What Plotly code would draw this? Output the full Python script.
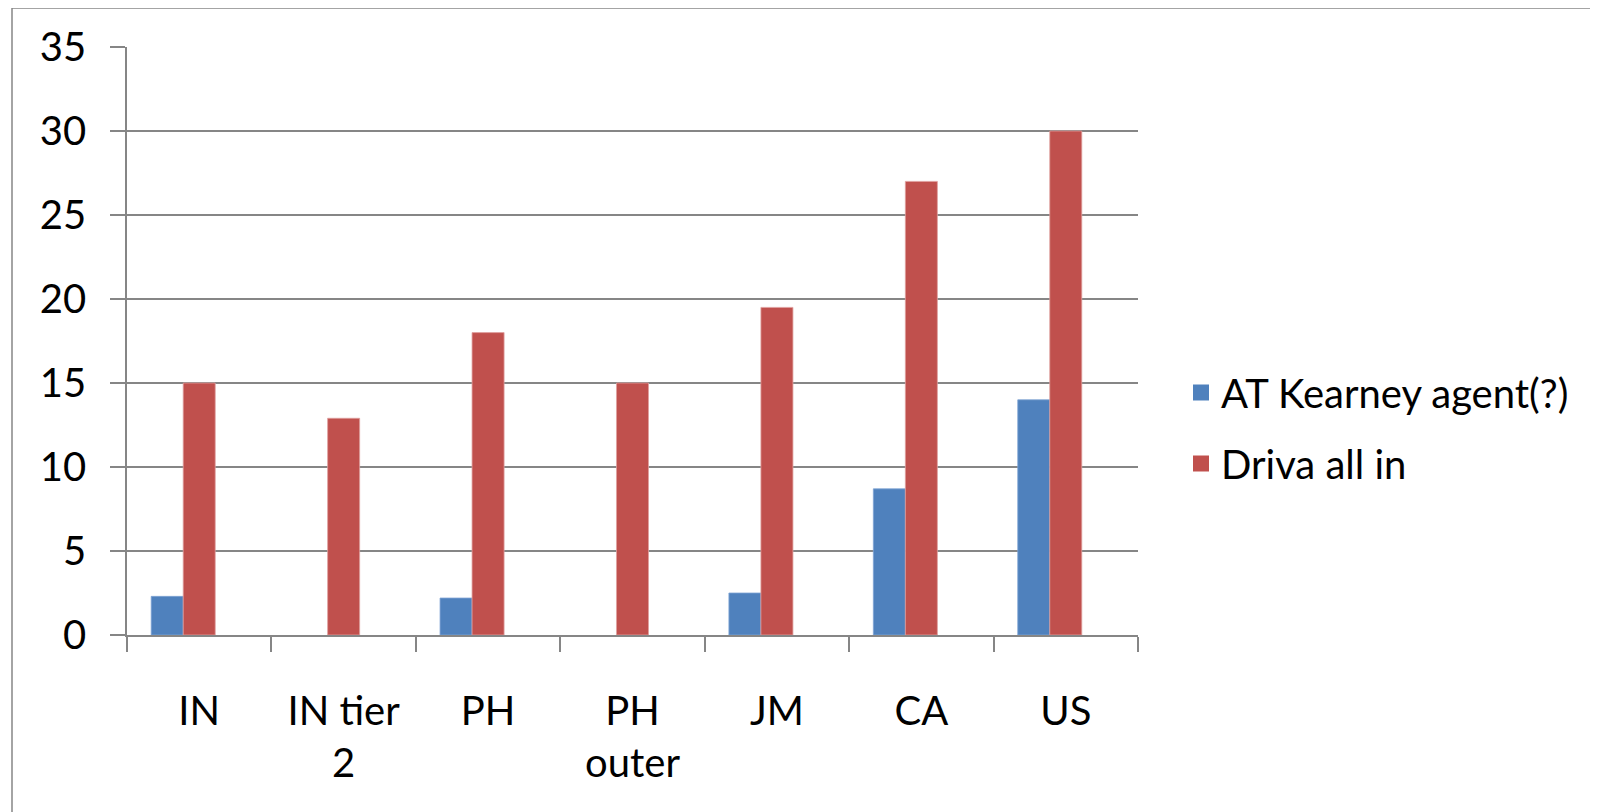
import plotly.graph_objects as go

categories = ["IN", "IN tier<br>2", "PH", "PH<br>outer", "JM", "CA", "US"]
at_kearney = [2.3, None, 2.2, None, 2.5, 8.7, 14]
driva_all_in = [15, 12.9, 18, 15, 19.5, 27, 30]
empty_series = [None, None, None, None, None, None, None]
series_names = ["AT Kearney agent(?)", "Driva all in", ""]
series_colors = ["#4F81BD", "#C0504D", "#9BBB59"]

OFF = 8  # page body margin
W, H = 1598 - OFF, 812 - OFF
L, R, T, B = 127 - OFF, 1138 - OFF, 47 - OFF, 635 - OFF
GRAY = "#868686"
FONT = "Lato, 'Open Sans', sans-serif"

fig = go.Figure()
fig.add_trace(go.Bar(x=categories, y=at_kearney, name=series_names[0],
                     marker=dict(color=series_colors[0], line=dict(color="#7fa3d4", width=0.8)),
                     showlegend=False))
fig.add_trace(go.Bar(x=categories, y=driva_all_in, name=series_names[1],
                     marker=dict(color=series_colors[1], line=dict(color="#e0a09e", width=0.8)),
                     showlegend=False))
fig.add_trace(go.Bar(x=categories, y=empty_series, name=series_names[2],
                     marker=dict(color=series_colors[2]), showlegend=False))

# legend entries (bigger square swatches, as in the original)
for i in range(2):
    fig.add_trace(go.Scatter(x=[None], y=[None], mode="markers", name=series_names[i],
                             marker=dict(symbol="square", size=16, color=series_colors[i]),
                             legendgroup=str(i), showlegend=True))


def px_x(p):
    return (p - OFF - L) / (R - L)


def px_y(p):
    return (B - (p - OFF)) / (B - T)


# chart-area border (only left and top edges are inside the picture)
fig.add_shape(type="line", xref="paper", yref="paper",
              x0=px_x(12), x1=px_x(12), y0=px_y(830), y1=px_y(8),
              line=dict(color=GRAY, width=1.5), layer="below")
fig.add_shape(type="line", xref="paper", yref="paper",
              x0=px_x(12), x1=px_x(1620), y0=px_y(8), y1=px_y(8),
              line=dict(color=GRAY, width=1.5), layer="below")

fig.update_layout(
    width=W, height=H,
    margin=dict(l=L, r=W - R, t=T, b=H - B, autoexpand=False),
    paper_bgcolor="white", plot_bgcolor="white",
    barmode="group", bargap=0.335, bargroupgap=0,
    font=dict(family=FONT, color="black", size=40),
    showlegend=True,
    legend=dict(x=px_x(1181), xanchor="left", y=px_y(428), yanchor="middle",
                font=dict(size=40, family=FONT, color="black"),
                traceorder="grouped", tracegroupgap=16, itemsizing="trace",
                bgcolor="rgba(0,0,0,0)"),
    xaxis=dict(type="category", showline=True, linecolor=GRAY, linewidth=1.5,
               ticks="outside", tickson="boundaries", ticklen=15, tickcolor=GRAY,
               tickwidth=1.5, showgrid=False, tickfont=dict(size=40, family=FONT),
               ticklabelstandoff=40),
    yaxis=dict(range=[0, 35], dtick=5, showline=True, linecolor=GRAY, linewidth=1.5,
               ticks="outside", ticklen=15, tickcolor=GRAY, tickwidth=1.5,
               showgrid=True, gridcolor=GRAY, gridwidth=1.5, zeroline=False,
               tickfont=dict(size=40, family=FONT), ticklabelstandoff=16),
)

fig.write_html("out.html")
